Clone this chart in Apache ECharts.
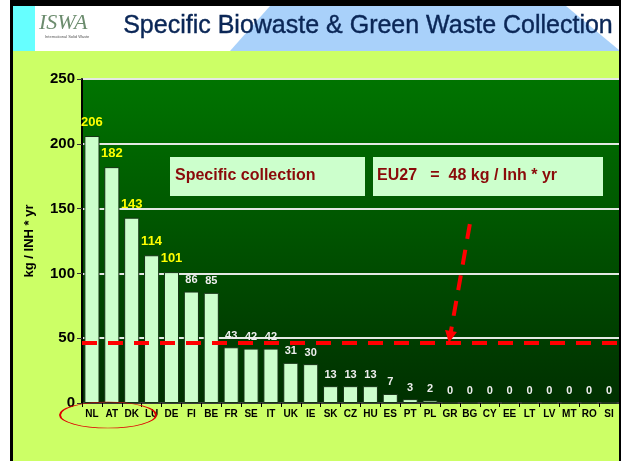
<!DOCTYPE html>
<html>
<head>
<meta charset="utf-8">
<script src="https://cdn.jsdelivr.net/npm/echarts@6/dist/echarts.min.js"></script>
<style>
  html, body { margin: 0; padding: 0; background: #fff; }
  #chart { width: 621px; height: 461px; }
</style>
</head>
<body>
<div id="chart"></div>
<script>
// country codes (EU27)
const countries = ['NL', 'AT', 'DK', 'LU', 'DE', 'FI', 'BE', 'FR', 'SE', 'IT', 'UK', 'IE', 'SK', 'CZ',
  'HU', 'ES', 'PT', 'PL', 'GR', 'BG', 'CY', 'EE', 'LT', 'LV', 'MT', 'RO', 'SI']
// kg / inhabitant * year
const collected = [206, 182, 143, 114, 101, 86, 85, 43, 42, 42, 31, 30, 13, 13,
  13, 7, 3, 2, 0, 0, 0, 0, 0, 0, 0, 0, 0]
const yTicks = [0, 50, 100, 150, 200, 250]
// average line as drawn, and the arrow pointing at it
const avgLine = 46.5
const arrowFrom = ['BG', 138]
const arrowTo = ['GR', 51]

const chart = echarts.init(document.getElementById('chart'))

// top five countries get the big yellow labels
const barData = collected.map((v, i) => ({
  value: v,
  label: i < 5
    ? { color: '#ffff00', fontSize: 13, distance: 7 }
    : { color: '#eeeeee', fontSize: 11, distance: 6 }
}))

const redDash = { color: '#ff0000', width: 4, type: [15, 11] }

const option = {
  backgroundColor: '#ccff66',
  animation: false,
  grid: {
    left: 82,
    right: 2,
    top: 79,
    bottom: 58,
    show: true,
    borderWidth: 0,
    backgroundColor: new echarts.graphic.LinearGradient(0, 0, 0, 1, [
      { offset: 0, color: '#007400' },
      { offset: 1, color: '#003000' }
    ])
  },
  xAxis: {
    type: 'category',
    data: countries,
    axisLine: { lineStyle: { color: '#000', width: 1.5 } },
    axisTick: { show: true, length: 4, lineStyle: { color: '#000' } },
    axisLabel: {
      color: '#000',
      fontWeight: 'bold',
      fontSize: 10,
      fontFamily: 'Liberation Sans',
      margin: 6,
      interval: 0
    }
  },
  yAxis: {
    type: 'value',
    min: yTicks[0],
    max: yTicks[yTicks.length - 1],
    interval: 50,
    name: 'kg / INH * yr',
    nameLocation: 'middle',
    nameGap: 46,
    nameTextStyle: {
      color: '#000',
      fontWeight: 'bold',
      fontSize: 13,
      fontFamily: 'Liberation Sans'
    },
    axisLine: { show: true, lineStyle: { color: '#000', width: 2 } },
    axisTick: { show: true, length: 5, lineStyle: { color: '#333' } },
    axisLabel: {
      color: '#000',
      fontWeight: 'bold',
      fontSize: 15,
      fontFamily: 'Liberation Sans',
      margin: 7
    },
    splitLine: { lineStyle: { color: '#e4e8e4', width: 2 } }
  },
  series: [
    {
      type: 'bar',
      data: barData,
      barCategoryGap: '24%',
      itemStyle: { color: '#ccffcc', borderColor: '#143214', borderWidth: 1 },
      label: {
        show: true,
        position: 'top',
        fontWeight: 'bold',
        fontFamily: 'Liberation Sans'
      },
      markLine: {
        silent: true,
        animation: false,
        symbol: ['none', 'none'],
        label: { show: false },
        lineStyle: redDash,
        data: [
          { yAxis: avgLine },
          [
            { coord: arrowFrom, symbol: 'none' },
            { coord: arrowTo, symbol: 'triangle', symbolSize: [12, 12] }
          ]
        ]
      }
    }
  ],
  graphic: [
    // slide frame
    { type: 'rect', shape: { x: 0, y: 0, width: 10, height: 461 }, style: { fill: '#fff' } },
    { type: 'rect', shape: { x: 10, y: 0, width: 3, height: 461 }, style: { fill: '#000' } },
    { type: 'rect', shape: { x: 619, y: 0, width: 2, height: 461 }, style: { fill: '#000' } },
    { type: 'rect', shape: { x: 10, y: 0, width: 611, height: 6 }, style: { fill: '#000' } },
    // title band
    { type: 'rect', shape: { x: 13, y: 6, width: 606, height: 45 }, style: { fill: '#ffffff' } },
    { type: 'rect', shape: { x: 13, y: 6, width: 22, height: 45 }, style: { fill: '#66ffff' } },
    {
      type: 'polygon',
      shape: { points: [[270, 6], [566, 6], [619, 50], [619, 51], [230, 51]] },
      style: { fill: '#a9d1fa' }
    },
    {
      type: 'text',
      left: 39,
      top: 12,
      style: {
        text: 'ISWA',
        font: 'italic 22px "Liberation Serif"',
        fill: '#6c8c6e'
      }
    },
    {
      type: 'text',
      left: 45,
      top: 35,
      style: {
        text: 'International Solid Waste',
        font: '4px "Liberation Sans"',
        fill: '#555'
      }
    },
    {
      type: 'text',
      left: 123,
      top: 13,
      style: {
        text: 'Specific Biowaste & Green Waste Collection',
        font: '25px "Liberation Sans"',
        fill: '#0a2656',
        stroke: '#0a2656',
        lineWidth: 0.4,
        textShadowColor: 'rgba(150,170,200,0.8)',
        textShadowOffsetX: 1,
        textShadowOffsetY: 1
      }
    },
    // the two boxes on the plot
    {
      type: 'rect',
      z: 100,
      shape: { x: 170, y: 157, width: 195, height: 39 },
      style: { fill: '#ccffcc' }
    },
    {
      type: 'text',
      z: 101,
      left: 175,
      top: 168,
      style: {
        text: 'Specific collection',
        font: 'bold 16px "Liberation Sans"',
        fill: '#8a0a0a'
      }
    },
    {
      type: 'rect',
      z: 100,
      shape: { x: 373, y: 157, width: 230, height: 39 },
      style: { fill: '#ccffcc' }
    },
    {
      type: 'text',
      z: 101,
      left: 377,
      top: 168,
      style: {
        text: 'EU27   =  48 kg / Inh * yr',
        font: 'bold 16px "Liberation Sans"',
        fill: '#8a0a0a'
      }
    },
    // red ring round the top five labels
    {
      type: 'circle',
      z: 100,
      x: 108,
      y: 415,
      scaleY: 13 / 48,
      shape: { cx: 0, cy: 0, r: 48 },
      style: { fill: 'none', stroke: '#e00000', lineWidth: 2, strokeNoScale: true }
    }
  ]
}

chart.setOption(option)
</script>
</body>
</html>
